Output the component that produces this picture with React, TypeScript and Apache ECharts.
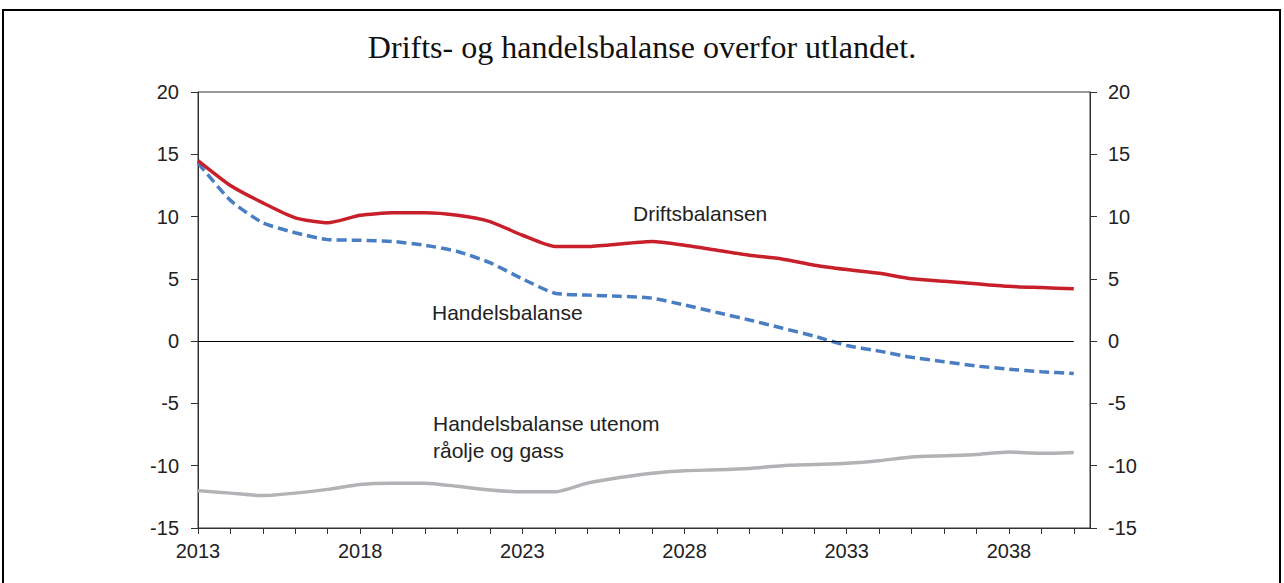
import React, { useEffect, useRef } from "react";
import * as echarts from "echarts";

const years = [2013, 2014, 2015, 2016, 2017, 2018, 2019, 2020, 2021, 2022, 2023, 2024, 2025, 2026, 2027, 2028, 2029, 2030, 2031, 2032, 2033, 2034, 2035, 2036, 2037, 2038, 2039, 2040];
const driftsbalansen = [14.5, 12.5, 11.1, 9.9, 9.5, 10.1, 10.3, 10.3, 10.1, 9.6, 8.5, 7.6, 7.6, 7.8, 8.0, 7.7, 7.3, 6.9, 6.6, 6.1, 5.75, 5.45, 5.0, 4.8, 4.6, 4.4, 4.3, 4.2];
const handelsbalanse = [14.3, 11.3, 9.5, 8.7, 8.15, 8.1, 8.0, 7.7, 7.2, 6.3, 5.0, 3.85, 3.7, 3.6, 3.45, 2.9, 2.3, 1.7, 1.05, 0.4, -0.35, -0.8, -1.3, -1.65, -2.0, -2.25, -2.45, -2.6];
const utenomOljeGass = [-12.0, -12.2, -12.4, -12.2, -11.9, -11.5, -11.4, -11.4, -11.65, -11.95, -12.1, -12.1, -11.4, -10.95, -10.6, -10.4, -10.33, -10.22, -10.0, -9.9, -9.8, -9.6, -9.3, -9.2, -9.1, -8.9, -9.0, -8.93];

const title = "Drifts- og handelsbalanse overfor utlandet.";
const labelDrifts = "Driftsbalansen";
const labelHandel = "Handelsbalanse";
const labelUtenom = "Handelsbalanse utenom\nråolje og gass";

const pairs = (vals: number[]) => years.map((y, i) => [y, vals[i]]);

export default function App() {
  const ref = useRef<HTMLDivElement>(null);
  useEffect(() => {
    if (!ref.current) return;
    const chart = echarts.init(ref.current, null, { renderer: "svg" });
    const sans = "'Liberation Sans', Arial, sans-serif";
    const axisLabelStyle = { fontFamily: sans, fontSize: 20, color: "#222" };
    const yAxisCommon = {
      type: "value",
      min: -15,
      max: 20,
      interval: 5,
      splitLine: { show: false },
      axisLine: { show: true, lineStyle: { color: "#333", width: 1 } },
      axisTick: { show: true, length: 7, lineStyle: { color: "#333" } },
    };
    chart.setOption({
      animation: false,
      backgroundColor: "#fff",
      grid: {
        left: 198,
        right: 194,
        top: 92,
        bottom: 55,
        show: true,
        borderColor: "#333",
        borderWidth: 1,
      },
      xAxis: {
        type: "value",
        min: 2013,
        max: 2040.5,
        interval: 1,
        splitLine: { show: false },
        axisLine: { show: true, onZero: false, lineStyle: { color: "#333" } },
        axisTick: { show: true, length: 6, lineStyle: { color: "#333" } },
        axisLabel: {
          ...axisLabelStyle,
          margin: 13,
          showMaxLabel: false,
          formatter: (v: number) => ((v - 2013) % 5 === 0 ? String(v) : ""),
        },
      },
      yAxis: [
        {
          ...yAxisCommon,
          position: "left",
          axisLabel: { ...axisLabelStyle, margin: 19 },
        },
        {
          ...yAxisCommon,
          position: "right",
          axisLabel: { ...axisLabelStyle, margin: 18 },
        },
      ],
      series: [
        {
          type: "line",
          name: labelUtenom,
          data: pairs(utenomOljeGass),
          showSymbol: false,
          smooth: 0.2,
          lineStyle: { color: "#B3B3B7", width: 3.5 },
          markLine: {
            silent: true,
            symbol: "none",
            label: { show: false },
            lineStyle: { color: "#000", width: 1, type: "solid" },
            data: [[{ coord: [2013, 0] }, { coord: [2040, 0] }]],
          },
          z: 2,
        },
        {
          type: "line",
          name: labelHandel,
          data: pairs(handelsbalanse),
          showSymbol: false,
          smooth: 0.2,
          lineStyle: { color: "#4A7EC2", width: 3.5, type: [10, 5] },
          z: 3,
        },
        {
          type: "line",
          name: labelDrifts,
          data: pairs(driftsbalansen),
          showSymbol: false,
          smooth: 0.2,
          lineStyle: { color: "#C8202A", width: 3.5 },
          z: 4,
        },
      ],
      graphic: [
        {
          type: "rect",
          shape: { x: 3, y: 10, width: 1277, height: 620 },
          style: { fill: "none", stroke: "#000", lineWidth: 2 },
          silent: true,
        },
        {
          type: "text",
          left: "center",
          top: 31,
          style: {
            text: title,
            fontFamily: "'Liberation Serif', 'Times New Roman', serif",
            fontSize: 32,
            fill: "#111",
          },
        },
        {
          type: "text",
          x: 633,
          y: 213,
          style: { text: labelDrifts, fontFamily: sans, fontSize: 21, fill: "#222", verticalAlign: "middle" },
        },
        {
          type: "text",
          x: 432,
          y: 312,
          style: { text: labelHandel, fontFamily: sans, fontSize: 21, fill: "#222", verticalAlign: "middle" },
        },
        {
          type: "text",
          x: 433,
          y: 410,
          style: { text: labelUtenom, fontFamily: sans, fontSize: 21, lineHeight: 27, fill: "#222", verticalAlign: "top" },
        },
      ],
    });
    return () => chart.dispose();
  }, []);
  return <div ref={ref} style={{ position: "absolute", left: 0, top: 0, width: 1284, height: 583 }} />;
}
